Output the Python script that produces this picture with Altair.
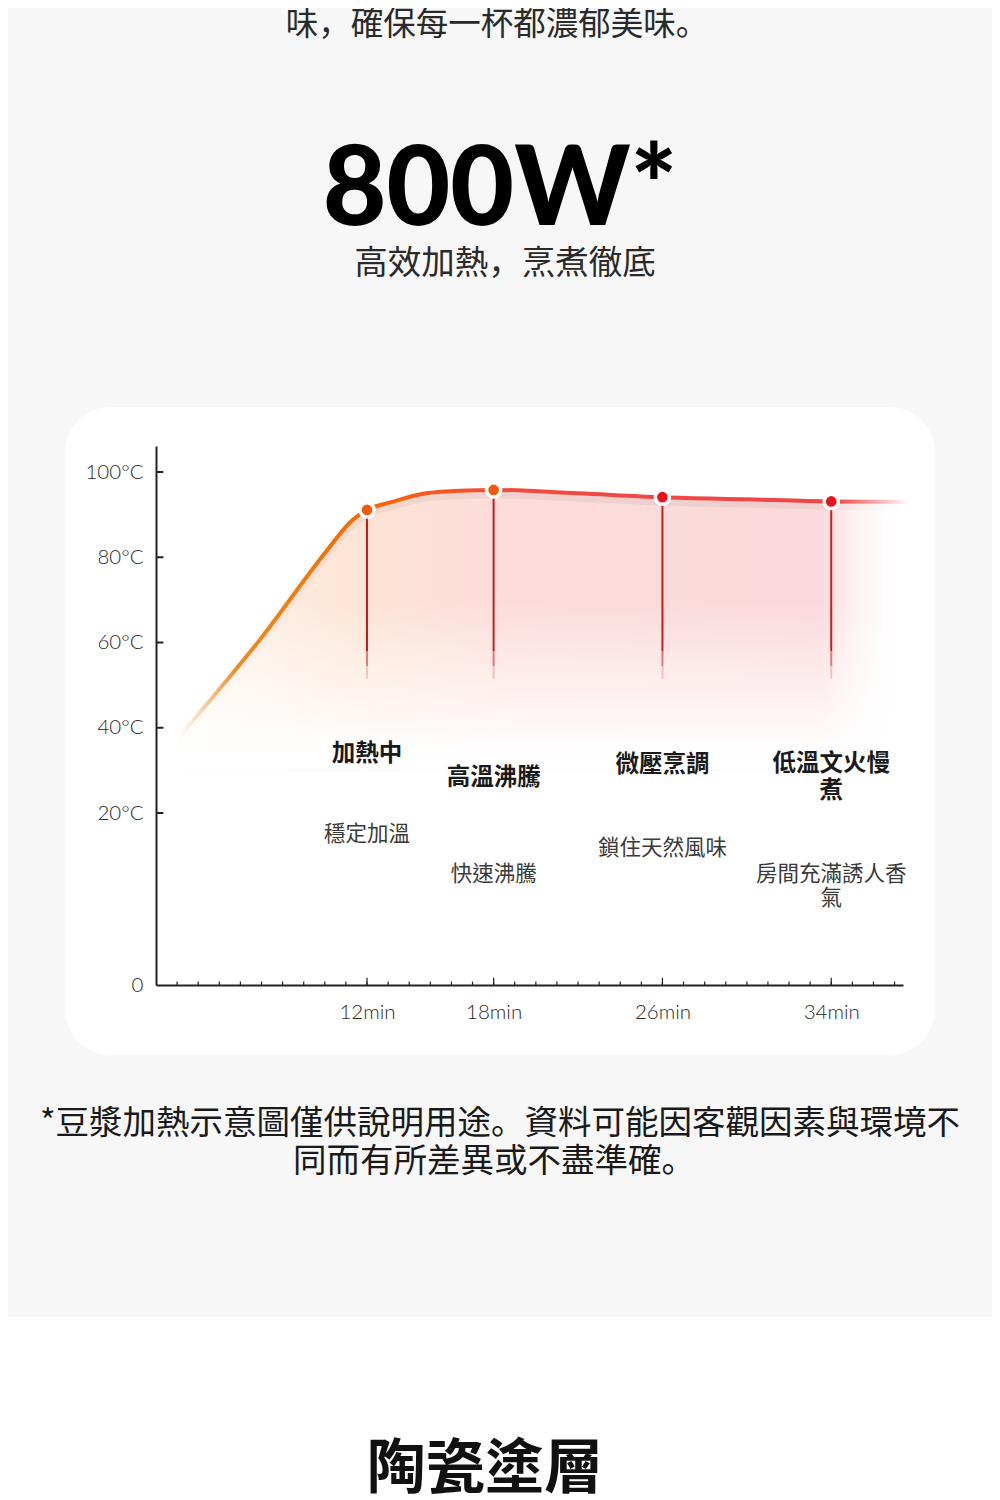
import altair as alt
import pandas as pd

# ---------------- data ----------------
TOP_LINE = "味，確保每一杯都濃郁美味。"
HEADLINE = "800W*"
SUBHEAD = "高效加熱，烹煮徹底"
FOOT1 = "*豆漿加熱示意圖僅供說明用途。資料可能因客觀因素與環境不"
FOOT2 = "同而有所差異或不盡準確。"
BOTTOM_TITLE = "陶瓷塗層"

CURVE_MIN = [3.1, 4.55, 6.9, 10.1, 11.3, 12, 13.2, 14.8, 16.4, 18, 22, 26, 30, 34, 37.7]
CURVE_TEMP = [37.9, 46.4, 60.5, 81.6, 88.7, 91.1, 93.0, 95.0, 95.6, 95.8, 95.0, 94.1, 93.6, 93.1, 93.0]

STAGE_MIN = [12, 18, 26, 34]
STAGE_TEMP = [91.1, 95.8, 94.1, 93.1]
STAGE_TITLE = ["加熱中", "高溫沸騰", "微壓烹調", "低溫文火慢\n煮"]
STAGE_TITLE_Y = [33.8, 28.2, 31.3, 31.5]
STAGE_DESC = ["穩定加溫", "快速沸騰", "鎖住天然風味", "房間充滿誘人香\n氣"]
STAGE_DESC_Y = [17.4, 12.8, 15.8, 12.8]

Y_TICKS = [0, 20, 40, 60, 80, 100]
Y_INNER_TICKS = [20, 40, 60, 80, 100]
X_LABEL_TICKS = [12, 18, 26, 34]
X_MINOR_TICKS = [3, 4, 5, 6, 7, 8, 9, 10, 11, 12, 13, 14, 15, 16, 17, 18, 19, 20,
                 21, 22, 23, 24, 25, 26, 27, 28, 29, 30, 31, 32, 33, 34, 35, 36, 37]

curve = pd.DataFrame({"minute": CURVE_MIN, "temp": CURVE_TEMP})
stages = pd.DataFrame({"minute": STAGE_MIN, "temp": STAGE_TEMP,
                       "title": STAGE_TITLE, "title_y": STAGE_TITLE_Y,
                       "desc": STAGE_DESC, "desc_y": STAGE_DESC_Y})
yt = pd.DataFrame({"temp": Y_INNER_TICKS})
xminor = pd.DataFrame({"minute": X_MINOR_TICKS})
xmajor = pd.DataFrame({"minute": X_LABEL_TICKS})
one = pd.DataFrame({"k": [0]})

W, H = 747, 539
CJK = "Noto Sans CJK TC"
CJK_P = "Noto Sans CJK JP"
NUM = "Lato"
NBSP = "\u00a0"

xs = alt.Scale(domain=[2, 37.4], nice=False, zero=False)
ys = alt.Scale(domain=[0, 20, 106.1], range=[H, 367, 0], nice=False, zero=False)

AX_X = alt.Axis(values=X_LABEL_TICKS, labelExpr="datum.value + 'min'", title=None,
                ticks=False, grid=False, domainColor="#222", domainWidth=2,
                labelFont=NUM, labelFontSize=20.5, labelFontWeight=300,
                labelColor="#2a2a2a", labelPadding=17, zindex=1)
AX_Y = alt.Axis(values=Y_TICKS,
                labelExpr=f"datum.value == 0 ? '0{NBSP}{NBSP}' : datum.value + '°C'",
                title=None, ticks=False, grid=False, domainColor="#222", domainWidth=2,
                labelFont=NUM, labelFontSize=20.5, labelFontWeight=300,
                labelColor="#2a2a2a", labelPadding=13, zindex=1)


def X(f="minute"):
    return alt.X(f"{f}:Q", scale=xs, axis=AX_X)


def Y(f="temp"):
    return alt.Y(f"{f}:Q", scale=ys, axis=AX_Y)


# ---------------- decoration ----------------
bottom_white = alt.Chart(one).mark_rect(color="white").encode(
    x=alt.value(-160), x2=alt.value(860), y=alt.value(871), y2=alt.value(1100))
card = alt.Chart(one).mark_rect(color="white", cornerRadius=45).encode(
    x=alt.value(-91), x2=alt.value(779), y=alt.value(-39), y2=alt.value(609))

# ---------------- area fill ----------------
fill_grad = alt.Gradient(
    gradient="linear", x1=0, y1=0, x2=1, y2=0,
    stops=[alt.GradientStop(color="rgba(253,236,222,0.6)", offset=0),
           alt.GradientStop(color="#fde4d4", offset=0.25),
           alt.GradientStop(color="#fcdcda", offset=0.45),
           alt.GradientStop(color="#fbd9da", offset=0.88),
           alt.GradientStop(color="rgba(255,255,255,0)", offset=1)])
area = alt.Chart(curve).mark_area(fill=fill_grad, interpolate="monotone").encode(
    x=X(), y=Y(), y2=alt.Y2(datum=30))
fade_grad = alt.Gradient(
    gradient="linear", x1=0, y1=0, x2=0, y2=1,
    stops=[alt.GradientStop(color="rgba(255,255,255,0)", offset=0),
           alt.GradientStop(color="rgba(255,255,255,0)", offset=0.4),
           alt.GradientStop(color="rgba(255,255,255,1)", offset=0.95)])
area_fade = alt.Chart(curve).mark_area(fill=fade_grad, interpolate="monotone").encode(
    x=X(), y=Y(), y2=alt.Y2(datum=30))

# ---------------- line ----------------
shadow_grad = alt.Gradient(
    gradient="linear", x1=0, y1=0, x2=1, y2=0,
    stops=[alt.GradientStop(color="rgba(0,0,0,0)", offset=0),
           alt.GradientStop(color="rgba(0,0,0,0.05)", offset=0.25),
           alt.GradientStop(color="rgba(0,0,0,0.05)", offset=0.85),
           alt.GradientStop(color="rgba(0,0,0,0)", offset=1)])
shadow = alt.Chart(curve).transform_calculate(s="datum.temp - 1.0").mark_line(
    stroke=shadow_grad, strokeWidth=8, interpolate="monotone").encode(
    x=X(), y=Y("s"))
line_grad = alt.Gradient(
    gradient="linear", x1=0, y1=0, x2=1, y2=0,
    stops=[alt.GradientStop(color="rgba(235,160,80,0)", offset=0),
           alt.GradientStop(color="#f08a20", offset=0.08),
           alt.GradientStop(color="#f57300", offset=0.2),
           alt.GradientStop(color="#fa5f12", offset=0.3),
           alt.GradientStop(color="#f24a3c", offset=0.45),
           alt.GradientStop(color="#f04646", offset=0.7),
           alt.GradientStop(color="#f04646", offset=0.9),
           alt.GradientStop(color="rgba(240,70,70,0)", offset=1)])
line = alt.Chart(curve).mark_line(stroke=line_grad, strokeWidth=4,
                                  interpolate="monotone").encode(x=X(), y=Y())

# ---------------- drop rules ----------------
RULE_C = "#cf1a1a"
rule1 = alt.Chart(stages).mark_rule(color=RULE_C, strokeWidth=2).encode(
    x=X(), y=Y(), y2=alt.Y2(datum=58))
rule2 = alt.Chart(stages).mark_rule(color=RULE_C, strokeWidth=2, opacity=0.55).encode(
    x=X(), y=alt.Y(datum=58, scale=ys, axis=AX_Y), y2=alt.Y2(datum=54.5))
rule3 = alt.Chart(stages).mark_rule(color=RULE_C, strokeWidth=2, opacity=0.2).encode(
    x=X(), y=alt.Y(datum=54.5, scale=ys, axis=AX_Y), y2=alt.Y2(datum=51.5))

dots = alt.Chart(stages).mark_circle(size=200, stroke="white", strokeWidth=3.5,
                                     opacity=1).encode(
    x=X(), y=Y(),
    color=alt.condition("datum.minute < 20", alt.value("#f55a0a"), alt.value("#e8141a")))

# ---------------- ticks ----------------
ytick = alt.Chart(yt).mark_rule(color="#222", strokeWidth=2).encode(
    x=alt.X(datum=2, scale=xs, axis=AX_X), x2=alt.X2(datum=2.35), y=Y())
xminor_t = alt.Chart(xminor).mark_rule(color="#222", strokeWidth=1.2).encode(
    x=X(), y=alt.Y(datum=0, scale=ys, axis=AX_Y), y2=alt.Y2(datum=0.4))
xmajor_t = alt.Chart(xmajor).mark_rule(color="#222", strokeWidth=1.2).encode(
    x=X(), y=alt.Y(datum=0, scale=ys, axis=AX_Y), y2=alt.Y2(datum=0.85))

# ---------------- stage labels ----------------
titles = alt.Chart(stages).mark_text(font=CJK, fontSize=23.5, fontWeight="bold",
                                     color="#1a1a1a", lineBreak="\n", lineHeight=27,
                                     baseline="middle").encode(
    x=X(), y=Y("title_y"), text="title:N")
descs = alt.Chart(stages).mark_text(font=CJK, fontSize=21.5, color="#3a3a3a",
                                    lineBreak="\n", lineHeight=24,
                                    baseline="middle").encode(
    x=X(), y=Y("desc_y"), text="desc:N")


# ---------------- page texts ----------------
def page_text(txt, x, y, size, weight="normal", color="#222", font=CJK_P, baseline="middle"):
    return alt.Chart(pd.DataFrame({"t": [txt]})).mark_text(
        font=font, fontSize=size, fontWeight=weight, color=color,
        baseline=baseline, align="center").encode(
        x=alt.value(x), y=alt.value(y), text="t:N")


t_top = page_text(TOP_LINE, 341, -421, 32.5, color="#2a2a2a")
t_head = page_text(HEADLINE, 344, -221, 110, weight=900, color="#000", font=NUM,
                   baseline="alphabetic")
t_sub = page_text(SUBHEAD, 349, -182, 33.5, color="#2a2a2a")
t_f1 = page_text(FOOT1, 344, 678, 33.5, color="#1a1a1a")
t_f2 = page_text(FOOT2, 338, 716, 33.5, color="#1a1a1a")
t_bottom = page_text(BOTTOM_TITLE, 329, 1024, 59, weight="bold", color="#111", font=CJK)

chart = alt.layer(
    bottom_white, card, area, area_fade, shadow, line,
    rule1, rule2, rule3, dots, ytick, xminor_t, xmajor_t, titles, descs,
    t_top, t_head, t_sub, t_f1, t_f2, t_bottom,
).properties(
    width=W, height=H,
    padding={"left": 148, "top": 438, "right": 89, "bottom": 515},
    autosize=alt.AutoSizeParams(type="none"),
).configure(background="#f7f7f7").configure_view(stroke=None)

chart.save("out.html", embed_options={"renderer": "svg", "actions": False})
